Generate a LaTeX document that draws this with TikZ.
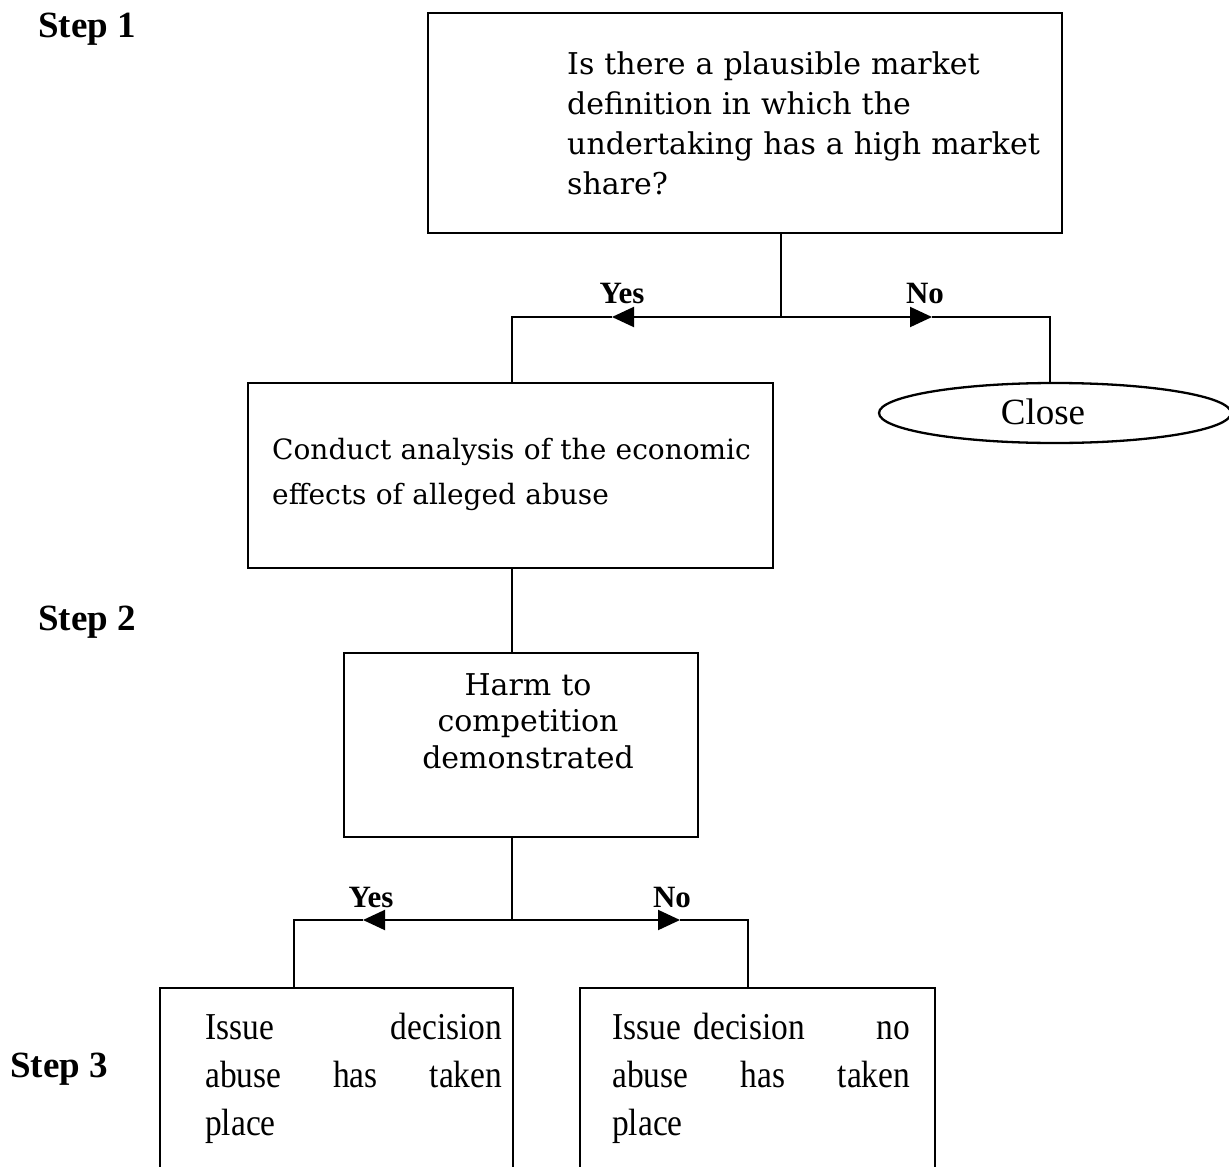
\documentclass[tikz,border=0pt]{standalone}
\usepackage{fontspec}
\setmainfont{Liberation Serif}
\newfontfamily\chfont{DejaVu Serif}
\newfontfamily\cndfont[FakeStretch=0.88]{Liberation Serif}
\usetikzlibrary{arrows.meta,shapes.geometric}
\tikzset{
  boxnode/.style={draw, rectangle, line width=2.3pt, inner sep=0pt},
  ovalnode/.style={draw, ellipse, line width=2.3pt, inner sep=0pt},
  conn/.style={line width=2pt},
  tipped/.style={line width=2pt, -{Triangle[length=22pt,width=20pt]}},
  steplabel/.style={inner sep=0pt, anchor=base west, font=\fontsize{37}{40}\selectfont\bfseries},
  yn/.style={inner sep=0pt, anchor=base, font=\fontsize{31}{34}\selectfont\bfseries},
  qtext/.style={inner sep=0pt, anchor=base west, align=left, font=\chfont\fontsize{30}{40}\selectfont},
  dectext/.style={inner sep=0pt, anchor=base west, align=left, font=\cndfont\fontsize{38}{48}\selectfont},
}
\begin{document}
\begin{tikzpicture}[x=1pt,y=-1pt]
\useasboundingbox (0,0) rectangle (1229,1167);
\clip (0,0) rectangle (1229,1167);
\fill[white] (0,0) rectangle (1229,1167);

% step labels
\node[steplabel] (s1) at (38,37) {Step 1};
\node[steplabel] (s2) at (38,630) {Step 2};
\node[steplabel] (s3) at (10,1077) {Step 3};

% boxes
\node[boxnode, minimum width=634pt, minimum height=220pt] (q) at (745,123) {};
\node[qtext, text width=500pt] (qt) at (567,74) {Is there a plausible market\\definition in which the\\undertaking has a high market\\share?};

\node[boxnode, minimum width=525pt, minimum height=185pt] (ana) at (510.5,475.5) {};
\node[qtext, text width=500pt, font=\chfont\fontsize{28}{45}\selectfont] (anat) at (272,459) {Conduct analysis of the economic\\effects of alleged abuse};

\node[ovalnode, minimum width=352pt, minimum height=60pt] (close) at (1055,413) {};
\node[inner sep=0pt, anchor=base, font=\fontsize{37}{40}\selectfont] (closet) at (1043,424) {Close};

\node[boxnode, minimum width=354pt, minimum height=184pt] (harm) at (521,745) {};
\node[inner sep=0pt, anchor=base, align=center, text width=300pt, font=\chfont\fontsize{30}{36.5}\selectfont] (harmt) at (528,695) {Harm to\\competition\\demonstrated};

\node[boxnode, minimum width=353pt, minimum height=220pt] (ab) at (336.5,1098) {};
\node[dectext, text width=297pt] (abt) at (205,1039) {Issue\hfill decision\\abuse\hfill has\hfill taken\\place};

\node[boxnode, minimum width=355pt, minimum height=220pt] (nab) at (757.5,1098) {};
\node[dectext, text width=298pt] (nabt) at (612,1039) {Issue decision\hfill no\\abuse\hfill has\hfill taken\\place};

% first decision connectors
\coordinate (j1) at (781,317);
\coordinate (ya1) at (612,317);
\coordinate (na1) at (932,317);
\coordinate (cl1) at (512,317);
\coordinate (cr1) at (1050,317);
\draw[conn] (q.south -| j1) -- (j1);
\draw[tipped] (j1) -- (ya1);
\draw[conn] (ya1) -- (cl1) -- (ana.north -| cl1);
\draw[tipped] (j1) -- (na1);
\draw[conn] (na1) -- (cr1) -- (close.north -| cr1);
\node[yn] (yes1) at (622,303) {Yes};
\node[yn] (no1) at (925,303) {No};

% analysis to harm
\coordinate (m) at (512,568);
\draw[conn] (ana.south -| m) -- (harm.north -| m);

% second decision connectors
\coordinate (j2) at (512,920);
\coordinate (ya2) at (363,920);
\coordinate (na2) at (680,920);
\coordinate (cl2) at (294,920);
\coordinate (cr2) at (748,920);
\draw[conn] (harm.south -| j2) -- (j2);
\draw[tipped] (j2) -- (ya2);
\draw[conn] (ya2) -- (cl2) -- (ab.north -| cl2);
\draw[tipped] (j2) -- (na2);
\draw[conn] (na2) -- (cr2) -- (nab.north -| cr2);
\node[yn] (yes2) at (371,907) {Yes};
\node[yn] (no2) at (672,907) {No};
\end{tikzpicture}
\end{document}
